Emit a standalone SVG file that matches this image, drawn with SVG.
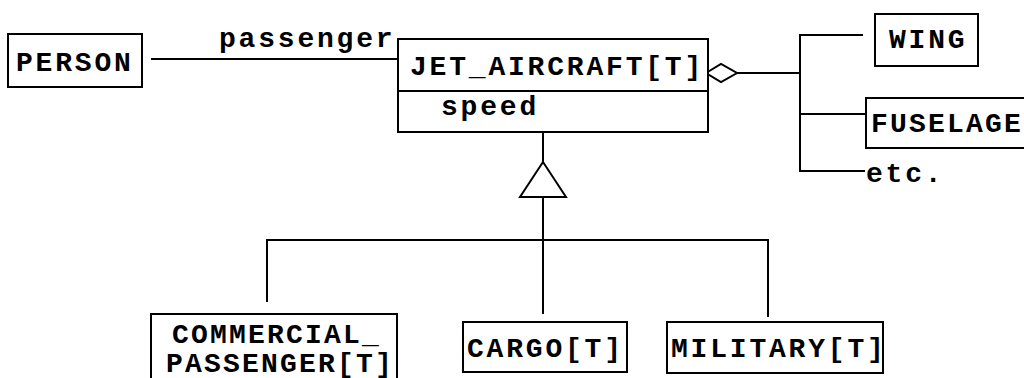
<svg xmlns="http://www.w3.org/2000/svg" width="1024" height="378" viewBox="0 0 1024 378">
<style>
.box{fill:#fff;stroke:#000;stroke-width:2}
.ln{fill:none;stroke:#000;stroke-width:2}
text{font-family:"Liberation Mono","Courier New",monospace;font-weight:bold;font-size:28px;letter-spacing:2.8px;fill:#000}
.tight{letter-spacing:2.2px}
</style>
<rect width="1024" height="378" fill="#fff"/>
<g id="connectors">
<line class="ln" x1="151" y1="59" x2="398" y2="59"/>
<text x="219" y="47">passenger</text>
<path class="ln" d="M706,73 L721,64 L737,73 L721,82 Z"/>
<path class="ln" d="M737,73 H800 M863,35 H800 V171 H865 M800,114 H866"/>
<line class="ln" x1="543" y1="132" x2="543" y2="162"/>
<path class="ln" d="M543,162 L520,197 L566,197 Z"/>
<path class="ln" d="M543,197 V314 M267,302 V240 H768 V317"/>
</g>
<g id="person"><rect class="box" x="8" y="34" width="134" height="53"/><text x="16" y="71">PERSON</text></g>
<g id="jet"><rect class="box" x="398" y="39" width="310" height="93"/><line class="ln" x1="398" y1="91" x2="708" y2="91"/><text x="410" y="75">JET_AIRCRAFT[T]</text><text x="441" y="115">speed</text></g>
<g id="wing"><rect class="box" x="875" y="14" width="103" height="52"/><text x="889" y="48">WING</text></g>
<g id="fuselage"><rect class="box" x="866" y="98" width="170" height="50"/><text class="tight" x="871" y="132">FUSELAGE</text></g>
<g id="etc"><text x="866" y="182">etc.</text></g>
<g id="commercial"><rect class="box" x="151" y="314" width="246" height="80"/><text class="tight" x="172" y="343">COMMERCIAL_</text><text class="tight" x="166" y="372">PASSENGER[T]</text></g>
<g id="cargo"><rect class="box" x="463" y="322" width="164" height="50"/><text x="467" y="357">CARGO[T]</text></g>
<g id="military"><rect class="box" x="667" y="322" width="216" height="51"/><text x="671" y="357">MILITARY[T]</text></g>
</svg>
